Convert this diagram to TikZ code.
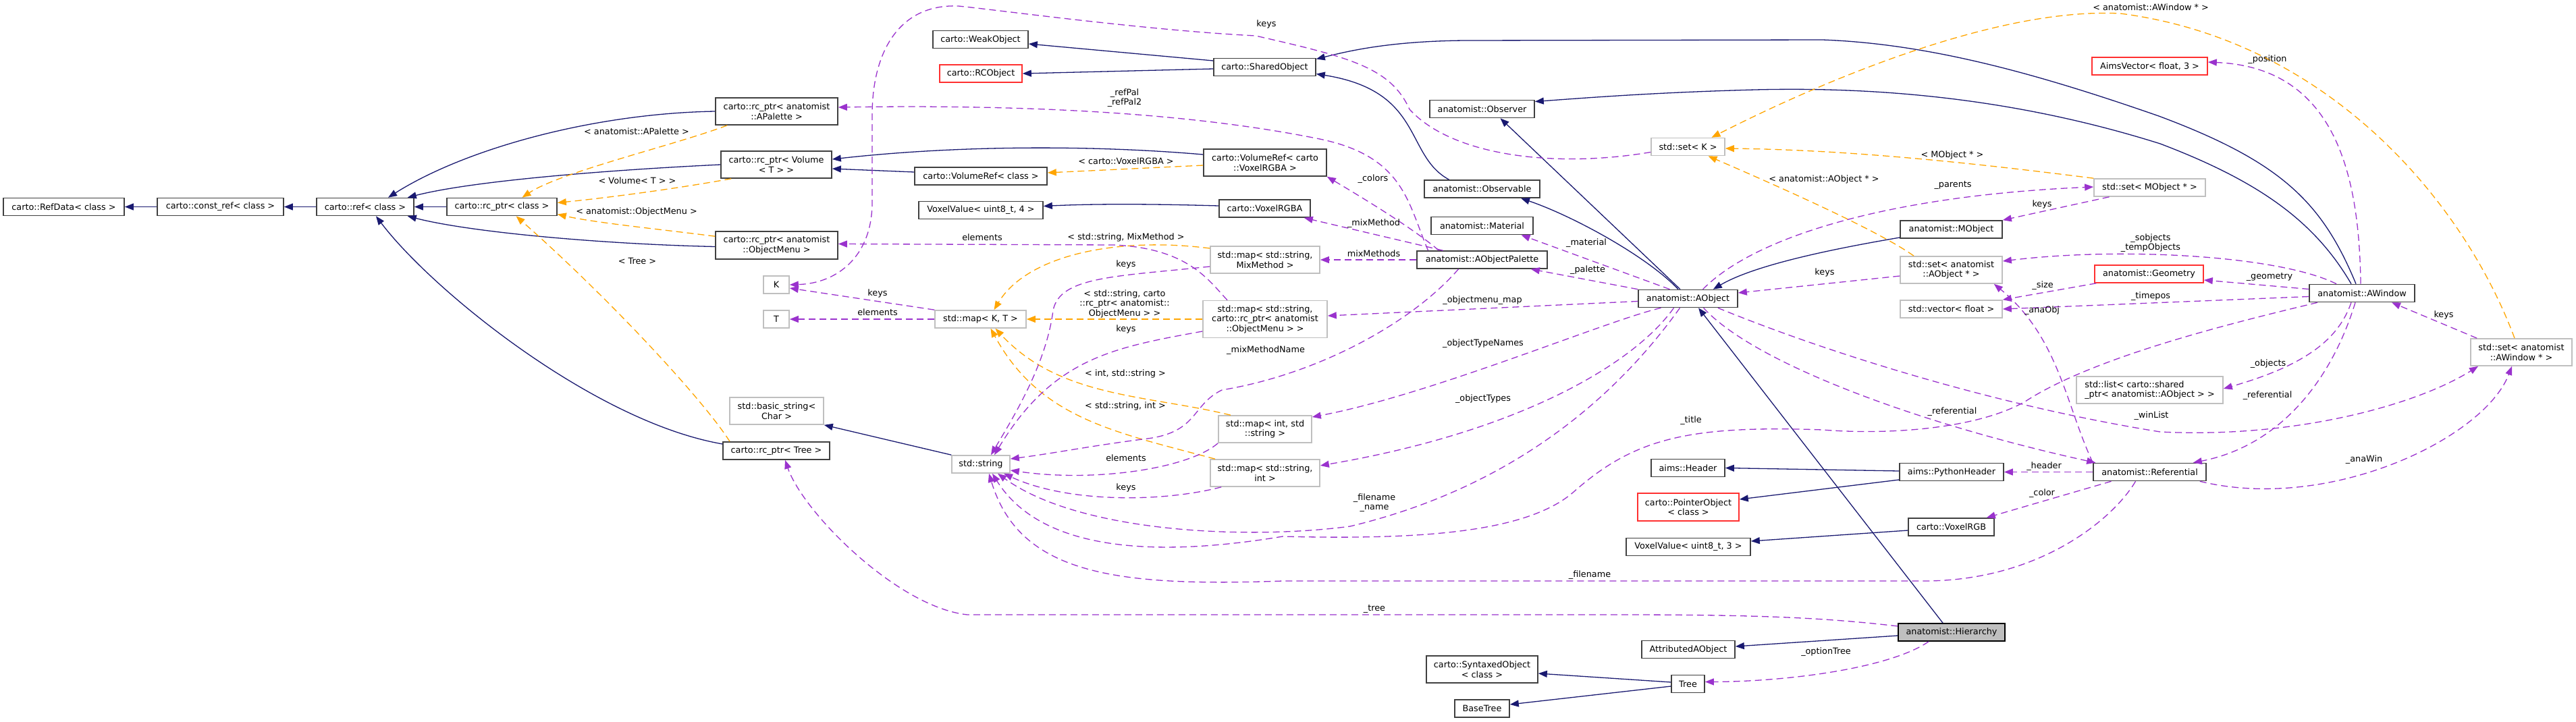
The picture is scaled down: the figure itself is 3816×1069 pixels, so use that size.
\documentclass[tikz,border=0pt]{standalone}
\usepackage{fontspec}
\setmainfont{DejaVu Sans}
\usepackage{tikz}
\usetikzlibrary{arrows.meta}
\definecolor{inhcol}{HTML}{191970}
\definecolor{memcol}{HTML}{9A32CD}
\definecolor{tplcol}{HTML}{FFA500}
\definecolor{trcol}{HTML}{FF3030}
\newcommand{\dgfont}{\fontsize{12.8}{14.5}\selectfont}

\begin{document}
\begin{tikzpicture}[x=1pt,y=-1pt]
	\tikzstyle{cls}=[draw=black!75,line width=1.6pt,fill=white,minimum height=26pt,inner xsep=4pt,inner ysep=2pt,align=center,font=\dgfont]
	\tikzstyle{ext}=[cls,draw=black!25]
	\tikzstyle{trunc}=[cls,draw=trcol]
	\tikzstyle{mainnode}=[cls,draw=black,fill=black!25]
	\tikzstyle{inh}=[draw=inhcol,line width=1.3pt,-{Triangle[length=13pt,width=10pt]}]
	\tikzstyle{mem}=[draw=memcol,line width=1.3pt,dash pattern=on 10pt off 6pt,-{Triangle[length=13pt,width=10pt]}]
	\tikzstyle{tpl}=[draw=tplcol,line width=1.3pt,dash pattern=on 10pt off 6pt,-{Triangle[length=13pt,width=10pt]}]
	\tikzstyle{lbl}=[font=\dgfont,inner sep=0pt,align=center]
	\useasboundingbox (0,0) rectangle (3816,1069);

	\node[cls,minimum width=179pt] (refdata) at (94.5,306.5) {carto::RefData< class >};
	\node[cls,minimum width=187pt] (constref) at (326.5,306.5) {carto::const\_ref< class >};
	\node[cls,minimum width=144pt] (ref) at (541,306.5) {carto::ref< class >};
	\node[cls,minimum width=163pt] (rcptr) at (743.5,306.5) {carto::rc\_ptr< class >};
	\node[cls,minimum width=181pt,minimum height=40pt] (rcpal) at (1150.5,165) {carto::rc\_ptr< anatomist\\::APalette >};
	\node[cls,minimum width=164pt,minimum height=40pt] (rcvol) at (1150,244) {carto::rc\_ptr< Volume\\< T > >};
	\node[cls,minimum width=181pt,minimum height=41pt] (rcmenu) at (1150.5,363.5) {carto::rc\_ptr< anatomist\\::ObjectMenu >};
	\node[ext,minimum width=38pt] (kparam) at (1150,422) {K};
	\node[ext,minimum width=38pt] (tparam) at (1150,473) {T};
	\node[ext,minimum width=139pt,minimum height=40pt] (basicstr) at (1150.5,609) {std::basic\_string<\\Char >};
	\node[cls,minimum width=158pt] (rctree) at (1150,668) {carto::rc\_ptr< Tree >};
	\node[cls,minimum width=141pt] (weakobj) at (1452.5,58.5) {carto::WeakObject};
	\node[trunc,minimum width=122pt] (rcobj) at (1453,109) {carto::RCObject};
	\node[cls,minimum width=196pt] (volref) at (1453,261) {carto::VolumeRef< class >};
	\node[cls,minimum width=184pt] (vv4) at (1453,311.5) {VoxelValue< uint8\_t, 4 >};
	\node[ext,minimum width=135pt] (mapkt) at (1452.5,473) {std::map< K, T >};
	\node[ext,minimum width=86pt] (stdstr) at (1453,688) {std::string};
	\node[cls,minimum width=151pt] (shared) at (1873.5,99.5) {carto::SharedObject};
	\node[cls,minimum width=182pt,minimum height=40pt] (volrgba) at (1874,241) {carto::VolumeRef< carto\\::VoxelRGBA >};
	\node[cls,minimum width=135pt] (rgba) at (1873.5,309) {carto::VoxelRGBA};
	\node[ext,minimum width=162pt,minimum height=40pt] (mapmix) at (1874,385) {std::map< std::string,\\MixMethod >};
	\node[ext,minimum width=184pt,minimum height=55pt] (mapmenu) at (1874,473) {std::map< std::string,\\carto::rc\_ptr< anatomist\\::ObjectMenu > >};
	\node[ext,minimum width=138pt,minimum height=40pt] (mapintstr) at (1874,636) {std::map< int, std\\::string >};
	\node[ext,minimum width=162pt,minimum height=40pt] (mapstrint) at (1874,701) {std::map< std::string,\\int >};
	\node[cls,minimum width=155pt] (observer) at (2195.5,161.5) {anatomist::Observer};
	\node[cls,minimum width=171pt] (observable) at (2195.5,280) {anatomist::Observable};
	\node[cls,minimum width=151pt] (material) at (2195.5,334.5) {anatomist::Material};
	\node[cls,minimum width=193pt] (palette) at (2195.5,385) {anatomist::AObjectPalette};
	\node[cls,minimum width=165pt,minimum height=40pt] (syntax) at (2195.5,992) {carto::SyntaxedObject\\< class >};
	\node[cls,minimum width=81pt] (basetree) at (2195.5,1050) {BaseTree};
	\node[ext,minimum width=109pt] (setk) at (2500.5,217.5) {std::set< K >};
	\node[cls,minimum width=147pt] (aobject) at (2500.5,442.5) {anatomist::AObject};
	\node[cls,minimum width=109pt] (header) at (2500.5,693.5) {aims::Header};
	\node[trunc,minimum width=150pt,minimum height=41pt] (ptrobj) at (2501,751.5) {carto::PointerObject\\< class >};
	\node[cls,minimum width=184pt] (vv3) at (2501,810.5) {VoxelValue< uint8\_t, 3 >};
	\node[cls,minimum width=138pt] (attrib) at (2501,962.5) {AttributedAObject};
	\node[cls,minimum width=49pt] (tree) at (2500.5,1013.5) {Tree};
	\node[cls,minimum width=151pt] (mobject) at (2890.5,340) {anatomist::MObject};
	\node[ext,minimum width=151pt,minimum height=40pt] (setaobj) at (2890.5,400) {std::set< anatomist\\::AObject * >};
	\node[ext,minimum width=151pt] (vecf) at (2890.5,458) {std::vector< float >};
	\node[cls,minimum width=154pt] (pyheader) at (2891,699.5) {aims::PythonHeader};
	\node[cls,minimum width=127pt] (voxrgb) at (2890.5,781) {carto::VoxelRGB};
	\node[mainnode,minimum width=158pt] (hierarchy) at (2891,937) {anatomist::Hierarchy};
	\node[trunc,minimum width=171pt] (aimsvec) at (3184.5,98) {AimsVector< float, 3 >};
	\node[ext,minimum width=165pt] (setmobj) at (3184.5,278) {std::set< MObject * >};
	\node[trunc,minimum width=161pt] (geometry) at (3183.5,406) {anatomist::Geometry};
	\node[ext,minimum width=217pt,minimum height=40pt,align=left] (listobj) at (3184.5,578) {std::list< carto::shared\\\_ptr< anatomist::AObject > >};
	\node[cls,minimum width=167pt] (referential) at (3184.5,699.5) {anatomist::Referential};
	\node[cls,minimum width=156pt] (awindow) at (3499,434.5) {anatomist::AWindow};
	\node[ext,minimum width=150pt,minimum height=40pt] (setwin) at (3735,522) {std::set< anatomist\\::AWindow * >};

	\draw[inh] (constref) -- (refdata);
	\draw[inh] (ref) -- (constref);
	\draw[inh] (rcptr) -- (ref);
	\draw[inh] (rcpal.west) .. controls (880,168) and (690,220) .. ([xshift=34pt]ref.north);
	\draw[inh] (rcvol.west) .. controls (900,252) and (700,268) .. ([xshift=-10pt]ref.north east);
	\draw[inh] ([yshift=-2pt]rcmenu.west) .. controls (900,362) and (700,345) .. ([xshift=-10pt]ref.south east);
	\draw[inh] ([yshift=10pt]rctree.west) .. controls (880,625) and (640,430) .. ([xshift=16pt]ref.south);
	\draw[inh] ([yshift=9.5pt]shared.west) -- ([yshift=-6.5pt]weakobj.east);
	\draw[inh] ([yshift=-2.5pt]shared.west) -- (rcobj.east);
	\draw[inh] ([yshift=6pt]volref.west) -- ([yshift=-6pt]rcvol.east);
	\draw[inh] ([yshift=12pt]volrgba.west) .. controls (1620,215) and (1420,215) .. ([yshift=8pt]rcvol.east);
	\draw[inh] ([yshift=4pt]rgba.west) .. controls (1700,302) and (1620,302) .. ([yshift=6pt]vv4.east);
	\draw[inh] ([xshift=-49pt]observable.north) .. controls (2080,230) and (2110,135) .. ([yshift=-10pt]shared.east);
	\draw[inh] ([xshift=-14.5pt]aobject.north) .. controls (2440,380) and (2330,320) .. ([xshift=57.5pt]observable.south);
	\draw[inh] ([xshift=-11.5pt]aobject.north) -- ([xshift=27pt]observer.south);
	\draw[inh] ([yshift=-12pt]mobject.west) .. controls (2720,368) and (2600,392) .. ([xshift=-37pt]aobject.north east);
	\draw[inh] ([xshift=-16pt]awindow.north) .. controls (3430,330) and (3350,270) .. (3200,213) .. controls (3000,150) and (2800,128) .. (2600,133) .. controls (2450,137) and (2350,145) .. ([yshift=11pt]observer.east);
	\draw[inh] ([xshift=-9pt]awindow.north) .. controls (3440,300) and (3380,240) .. (3198,172) .. controls (3020,110) and (2860,65) .. (2700,59) -- (2170,60) .. controls (2060,61) and (2000,75) .. ([yshift=12pt]shared.east);
	\draw[inh] (stdstr.north west) -- (basicstr.south east);
	\draw[inh] ([xshift=-13pt]hierarchy.north) -- ([xshift=15.5pt]aobject.south);
	\draw[inh] ([yshift=-5pt]hierarchy.west) -- ([yshift=4.5pt]attrib.east);
	\draw[inh] ([yshift=2.5pt]tree.west) -- ([yshift=-6pt]syntax.east);
	\draw[inh] ([yshift=-3.5pt]tree.west) -- ([yshift=6pt]basetree.east);
	\draw[inh] ([yshift=1.5pt]pyheader.west) -- (header.east);
	\draw[inh] ([yshift=-11.5pt]pyheader.west) -- ([yshift=11.5pt]ptrobj.east);
	\draw[inh] ([yshift=-5pt]voxrgb.west) -- ([yshift=8.5pt]vv3.east);

	\draw[tpl] ([xshift=18pt]rcpal.south west) .. controls (1000,215) and (830,255) .. ([xshift=30pt]rcptr.north) node[lbl] (tl1) at (943,195) {< anatomist::APalette >};
	\draw[tpl] ([xshift=16pt]rcvol.south west) .. controls (1000,280) and (900,293) .. ([yshift=6pt]rcptr.east) node[lbl] (tl2) at (944,268) {< Volume< T > >};
	\draw[tpl] ([yshift=-8pt]rcmenu.north west) .. controls (980,340) and (880,330) .. ([yshift=-11pt]rcptr.east) node[lbl] (tl3) at (943,314) {< anatomist::ObjectMenu >};
	\draw[tpl] ([xshift=-69pt]rctree.north) .. controls (1040,590) and (900,440) .. ([xshift=21pt]rcptr.south) node[lbl] (tl4) at (944,387) {< Tree >};
	\draw[tpl] ([yshift=-4pt]volrgba.west) -- ([yshift=5pt]volref.east) node[lbl] (tl5) at (1668,239) {< carto::VoxelRGBA >};
	\draw[tpl] ([yshift=17pt]mapmix.west) .. controls (1650,350) and (1520,380) .. ([xshift=20pt]mapkt.north) node[lbl] (tl6) at (1668,352) {< std::string, MixMethod >};
	\draw[tpl] (mapmenu.west) -- (mapkt.east) node[lbl] (tl7) at (1666,450) {< std::string, carto\\::rc\_ptr< anatomist::\\ObjectMenu > >};
	\draw[tpl] ([xshift=-51pt]mapintstr.north) .. controls (1700,585) and (1570,590) .. ([xshift=22pt]mapkt.south) node[lbl] (tl8) at (1667,554) {< int, std::string >};
	\draw[tpl] ([xshift=-74pt]mapstrint.north) .. controls (1650,640) and (1540,620) .. ([xshift=15pt]mapkt.south) node[lbl] (tl9) at (1667,602) {< std::string, int >};
	\draw[tpl] (setmobj.north west) .. controls (2950,245) and (2750,222) .. ([yshift=-2.5pt]setk.east) node[lbl] (tl10) at (2892,230) {< MObject * >};
	\draw[tpl] ([xshift=-55.5pt]setaobj.north) .. controls (2780,340) and (2620,270) .. ([xshift=30pt]setk.south) node[lbl] (tl11) at (2702,266) {< anatomist::AObject * >};
	\draw[tpl] ([xshift=-10pt]setwin.north) .. controls (3650,300) and (3450,60) .. (3141,20) .. controls (2950,10) and (2680,130) .. ([xshift=35pt]setk.north) node[lbl] (tl12) at (3186,11) {< anatomist::AWindow * >};

	\draw[mem] ([yshift=-8pt]setk.west) .. controls (2300,250) and (2150,230) .. (2088,162) .. controls (2060,100) and (2000,85) .. (1860,53) .. controls (1700,45) and (1480,15) .. (1420,9) .. controls (1330,5) and (1292,80) .. (1292,170) -- (1292,300) .. controls (1292,380) and (1240,420) .. (kparam.east) node[lbl] (lk1) at (1876,36) {keys};
	\draw[mem] (mapkt.north west) -- ([yshift=-5pt]kparam.east) node[lbl] (lk2) at (1300,435) {keys};
	\draw[mem] (mapkt.west) -- (tparam.east) node[lbl] (le1) at (1300,463) {elements};
	\draw[mem] ([xshift=-80pt]palette.north) .. controls (2085,300) and (2080,230) .. (1950,205) .. controls (1750,165) and (1500,155) .. ([yshift=6pt]rcpal.east) node[lbl] (lrp) at (1666,145) {\_refPal\\\_refPal2};
	\draw[mem] ([xshift=-64pt]palette.north) .. controls (2095,340) and (2030,300) .. (volrgba.south east) node[lbl] (lcol) at (2034,265) {\_colors};
	\draw[mem] ([xshift=-58pt]palette.north) -- ([xshift=-10pt]rgba.south east) node[lbl] (lmm) at (2035,331) {\_mixMethod};
	\draw[mem] (palette.west) -- (mapmix.east) node[lbl] (lmms) at (2035,376) {mixMethods};
	\draw[mem] ([xshift=-35pt]palette.south) .. controls (2090,480) and (1950,555) .. (1810,578) .. controls (1765,600) and (1775,640) .. (1700,650) .. controls (1620,660) and (1560,672) .. ([yshift=8pt]stdstr.east) node[lbl] (lmmn) at (1875,519) {\_mixMethodName};
	\draw[mem] ([xshift=-56pt]mapmenu.north) .. controls (1790,415) and (1760,368) .. (1650,363) -- ([yshift=2pt]rcmenu.east) node[lbl] (le2) at (1455,352) {elements};
	\draw[mem] ([yshift=-10pt]mapmix.west) .. controls (1650,410) and (1570,410) .. (1560,460) .. controls (1550,540) and (1500,620) .. ([xshift=15pt]stdstr.north) node[lbl] (lk3) at (1668,392) {keys};
	\draw[mem] ([yshift=-18pt]mapmenu.west) .. controls (1650,515) and (1560,530) .. ([xshift=20pt]stdstr.north) node[lbl] (lk4) at (1668,488) {keys};
	\draw[mem] (mapintstr.south west) .. controls (1760,695) and (1620,715) .. ([yshift=-9pt]stdstr.east) node[lbl] (le3) at (1668,679) {elements};
	\draw[mem] ([xshift=17pt]mapstrint.south west) .. controls (1720,745) and (1580,745) .. ([xshift=34pt]stdstr.south) node[lbl] (lk5) at (1668,723) {keys};
	\draw[mem] ([xshift=-12pt]aobject.south) .. controls (2400,580) and (2250,720) .. (2000,780) .. controls (1850,800) and (1600,790) .. ([xshift=25pt]stdstr.south) node[lbl] (lfn) at (2036,745) {\_filename\\\_name};
	\draw[mem] ([xshift=-66pt]awindow.south) .. controls (3300,480) and (3100,530) .. (3000,595) .. controls (2930,635) and (2800,645) .. (2700,637) .. controls (2500,630) and (2420,650) .. (2330,730) .. controls (2260,790) and (2100,800) .. (1900,795) .. controls (1750,820) and (1550,830) .. ([xshift=17pt]stdstr.south) node[lbl] (ltit) at (2505,623) {\_title};
	\draw[mem] ([xshift=-21pt]referential.south) .. controls (3130,770) and (3020,861) .. (2850,861) -- (1900,861) .. controls (1650,870) and (1510,850) .. ([xshift=12pt]stdstr.south) node[lbl] (lfn2) at (2355,852) {\_filename};
	\draw[mem] ([yshift=9pt]hierarchy.west) .. controls (2700,915) and (2600,911) .. (2400,911) -- (1433,911) .. controls (1330,900) and (1190,760) .. ([xshift=13pt]rctree.south) node[lbl] (ltr) at (2036,902) {\_tree};
	\draw[mem] ([xshift=-34pt]hierarchy.south) .. controls (2800,990) and (2650,1010) .. ([yshift=3pt]tree.east) node[lbl] (lot) at (2705,966) {\_optionTree};
	\draw[mem] ([xshift=-27pt]aobject.north) -- ([xshift=58pt]material.south) node[lbl] (lmat) at (2350,360) {\_material};
	\draw[mem] (aobject.north west) -- ([xshift=-25pt]palette.south east) node[lbl] (lpal) at (2352,400) {\_palette};
	\draw[mem] ([yshift=-4pt]aobject.west) -- ([yshift=5pt]mapmenu.east) node[lbl] (lomm) at (2196,445) {\_objectmenu\_map};
	\draw[mem] ([xshift=-40pt]aobject.south) .. controls (2380,475) and (2120,585) .. ([yshift=18pt]mapintstr.east) node[lbl] (lotn) at (2197,509) {\_objectTypeNames};
	\draw[mem] ([xshift=-21pt]aobject.south) .. controls (2420,540) and (2250,640) .. ([yshift=11pt]mapstrint.east) node[lbl] (lot2) at (2197,591) {\_objectTypes};
	\draw[mem] ([yshift=-9pt]setaobj.west) -- ([yshift=8.5pt]aobject.east) node[lbl] (lk6) at (2703,404) {keys};
	\draw[mem] ([xshift=-60pt]setmobj.south) -- (mobject.north east) node[lbl] (lk7) at (3025,303) {keys};
	\draw[mem] ([xshift=22pt]aobject.north) .. controls (2600,350) and (2800,290) .. ([yshift=1pt]setmobj.west) node[lbl] (lpar) at (2893,275) {\_parents};
	\draw[mem] ([xshift=-30pt]aobject.south east) .. controls (2700,520) and (2950,600) .. (3200,640) .. controls (3400,650) and (3580,600) .. ([xshift=-64pt]setwin.south) node[lbl] (lwl) at (3187,616) {\_winList};
	\draw[mem] ([xshift=23pt]aobject.south) .. controls (2600,540) and (2850,630) .. ([xshift=4pt]referential.north west) node[lbl] (lref1) at (2892,610) {\_referential};
	\draw[mem] ([xshift=-2pt]awindow.north) .. controls (3495,260) and (3460,100) .. ([yshift=6pt]aimsvec.east) node[lbl] (lpos) at (3359,88) {\_position};
	\draw[mem] ([xshift=-38pt]awindow.north) .. controls (3380,380) and (3150,365) .. ([yshift=13pt]setaobj.east) node[lbl] (lso) at (3186,360) {\_sobjects\\\_tempObjects};
	\draw[mem] ([yshift=6pt]awindow.west) -- ([yshift=-9pt]geometry.east) node[lbl] (lgeo) at (3362,411) {\_geometry};
	\draw[mem] ([yshift=-5pt]awindow.west) -- (vecf.east) node[lbl] (ltp) at (3186,439) {\_timepos};
	\draw[mem] ([xshift=3pt]geometry.south west) -- (vecf.north east) node[lbl] (lsz) at (3026,423) {\_size};
	\draw[mem] (referential.north west) .. controls (3060,600) and (3050,500) .. ([xshift=-13pt]setaobj.south east) node[lbl] (lao) at (3025,460) {\_anaObj};
	\draw[mem] ([xshift=-16pt]awindow.south) .. controls (3465,500) and (3420,540) .. ([yshift=2pt]listobj.east) node[lbl] (lobj) at (3360,539) {\_objects};
	\draw[mem] ([xshift=-10pt]awindow.south) .. controls (3455,560) and (3380,660) .. ([xshift=-20pt]referential.north east) node[lbl] (lref2) at (3359,586) {\_referential};
	\draw[mem] ([xshift=10pt]setwin.north west) -- ([xshift=44pt]awindow.south) node[lbl] (lk8) at (3620,467) {keys};
	\draw[mem] ([xshift=-10pt]referential.south east) .. controls (3450,760) and (3680,650) .. ([xshift=-14pt]setwin.south) node[lbl] (law) at (3502,681) {\_anaWin};
	\draw[mem] (referential.west) -- (pyheader.east) node[lbl] (lhd) at (3028,691) {\_header};
	\draw[mem] ([xshift=-57pt]referential.south) -- ([xshift=-12pt]voxrgb.north east) node[lbl] (lclr) at (3025,731) {\_color};
\end{tikzpicture}
\end{document}
